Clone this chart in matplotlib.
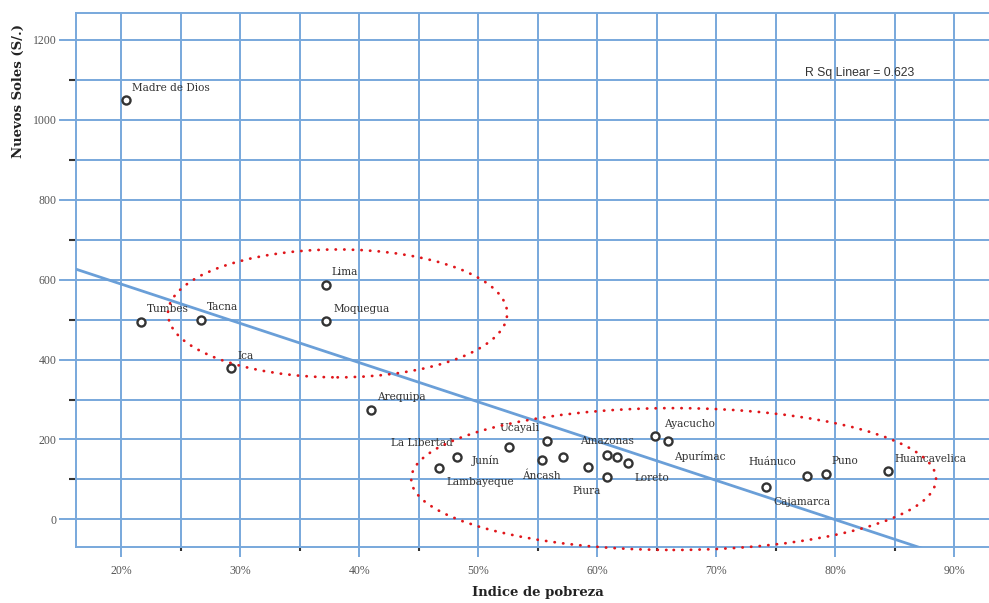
import numpy as np
import matplotlib
matplotlib.use("Agg")
import matplotlib.pyplot as plt
from matplotlib.patches import Ellipse
from matplotlib.ticker import MultipleLocator, FuncFormatter


# poverty index (%) against average income (S/.) per department
departments = ["Madre de Dios", "Tumbes", "Tacna", "Lima", "Moquegua", "Ica", "Arequipa",
               "Lambayeque", "Junín", "La Libertad", "Ucayali", "Áncash", "", "Piura",
               "Amazonas", "", "Loreto", "", "Ayacucho", "Apurímac",
               "Cajamarca", "Huánuco", "Puno", "Huancavelica"]
poverty = [20.4, 21.6, 26.7, 37.2, 37.2, 29.2, 41.0,
           46.7, 48.2, 52.6, 55.8, 55.3, 57.1, 59.2,
           60.8, 61.6, 62.6, 60.8, 64.8, 65.9,
           74.2, 77.6, 79.2, 84.4]
income = [1049, 494, 499, 586, 496, 378, 275,
          128, 155, 182, 196, 149, 156, 132,
          160, 155, 142, 107, 208, 195,
          80, 109, 114, 121]
r_sq_text = "R Sq Linear = 0.623"

# label placement, pixels from the marker (dx right, dy down)
label_offsets = {
    "Madre de Dios": (6, -12, "left"), "Tumbes": (6, -13, "left"),
    "Tacna": (6, -13, "left"), "Lima": (5, -13, "left"),
    "Moquegua": (7, -12, "left"), "Ica": (7, -12, "left"),
    "Arequipa": (6, -13, "left"), "Lambayeque": (7, 14, "left"),
    "Junín": (15, 3, "left"), "La Libertad": (-57, -4, "right"),
    "Ucayali": (-48, -13, "left"), "Áncash": (-19, 16, "left"),
    "Piura": (-15, 24, "left"), "Amazonas": (-27, -14, "left"),
    "Loreto": (6, 15, "left"), "Ayacucho": (9, -12, "left"),
    "Apurímac": (6, 15, "left"), "Cajamarca": (7, 15, "left"),
    "Huánuco": (-58, -14, "left"), "Puno": (6, -13, "left"),
    "Huancavelica": (7, -12, "left"),
}

grid_col = "#78a8dc"
W, H = 989, 603

fig = plt.figure(figsize=(W / 100, H / 100), dpi=100)
ax = fig.add_axes([76 / W, 1 - 546.5 / H, 1 - 76 / W, (546.5 - 13.3) / H])

ax.set_xlim(16.18, 92.9)
ax.set_ylim(-67.8, 1266.5)

ax.xaxis.set_major_locator(MultipleLocator(10))
ax.xaxis.set_minor_locator(MultipleLocator(5))
ax.yaxis.set_major_locator(MultipleLocator(200))
ax.yaxis.set_minor_locator(MultipleLocator(100))
ax.xaxis.set_major_formatter(FuncFormatter(lambda v, p: "%d%%" % round(v)))

ax.grid(which="both", color=grid_col, lw=1.4)
ax.set_axisbelow(True)
for s in ax.spines.values():
    s.set_color(grid_col)
    s.set_linewidth(1.4)
ax.spines["right"].set_visible(False)

ax.tick_params(axis="y", which="major", length=12, width=1.4, color=grid_col,
               labelsize=8.5, labelcolor="#555555", pad=2)
ax.tick_params(axis="y", which="minor", length=5, width=1.5, color="#333333")
ax.tick_params(axis="x", which="major", length=7, width=1.4, color=grid_col,
               labelsize=8.5, labelcolor="#555555", pad=6)
ax.tick_params(axis="x", which="minor", length=3, width=1.5, color="#333333")
for lab in ax.get_xticklabels() + ax.get_yticklabels():
    lab.set_family("Liberation Serif")

# linear fit over the whole x range
slope, icpt = np.polyfit(poverty, income, 1)
xs = np.array(ax.get_xlim())
ax.plot(xs, slope * xs + icpt, color="#6a9fd8", lw=2, zorder=3)

ax.plot(poverty, income, "o", ms=5.8, mfc="white", mec="#333333", mew=1.7, zorder=4)

for name, x, y in zip(departments, poverty, income):
    if not name:
        continue
    dx, dy, ha = label_offsets[name]
    ax.annotate(name, (x, y), xytext=(dx, -dy), textcoords="offset pixels",
                ha=ha, va="center", fontsize=7.6, family="DejaVu Serif",
                color="#333333", zorder=5)

# dotted rings around the two groups
for cx, cy, w, h in [(38.16, 515.5, 28.5, 320), (66.4, 101, 44.1, 355)]:
    e = Ellipse((cx, cy), w, h, fill=False, edgecolor="#e0161b", lw=2,
                linestyle=(0, (0.1, 3)), clip_on=False, zorder=6)
    e.set_capstyle("round")
    ax.add_patch(e)

fig.text(805 / W, 1 - 73 / H, r_sq_text, ha="left", va="center",
         fontsize=8.8, family="Liberation Sans", color="#333333")
fig.text(18 / W, 1 - 91 / H, "Nuevos Soles (S/.)", rotation=90, ha="center",
         va="center", fontsize=9.5, family="DejaVu Serif", weight="bold",
         color="#222222")
fig.text(537.5 / W, 1 - 592.7 / H, "Indice de pobreza", ha="center", va="center",
         fontsize=9.5, family="DejaVu Serif", weight="bold", color="#222222")

fig.savefig("out.png", dpi=100)
